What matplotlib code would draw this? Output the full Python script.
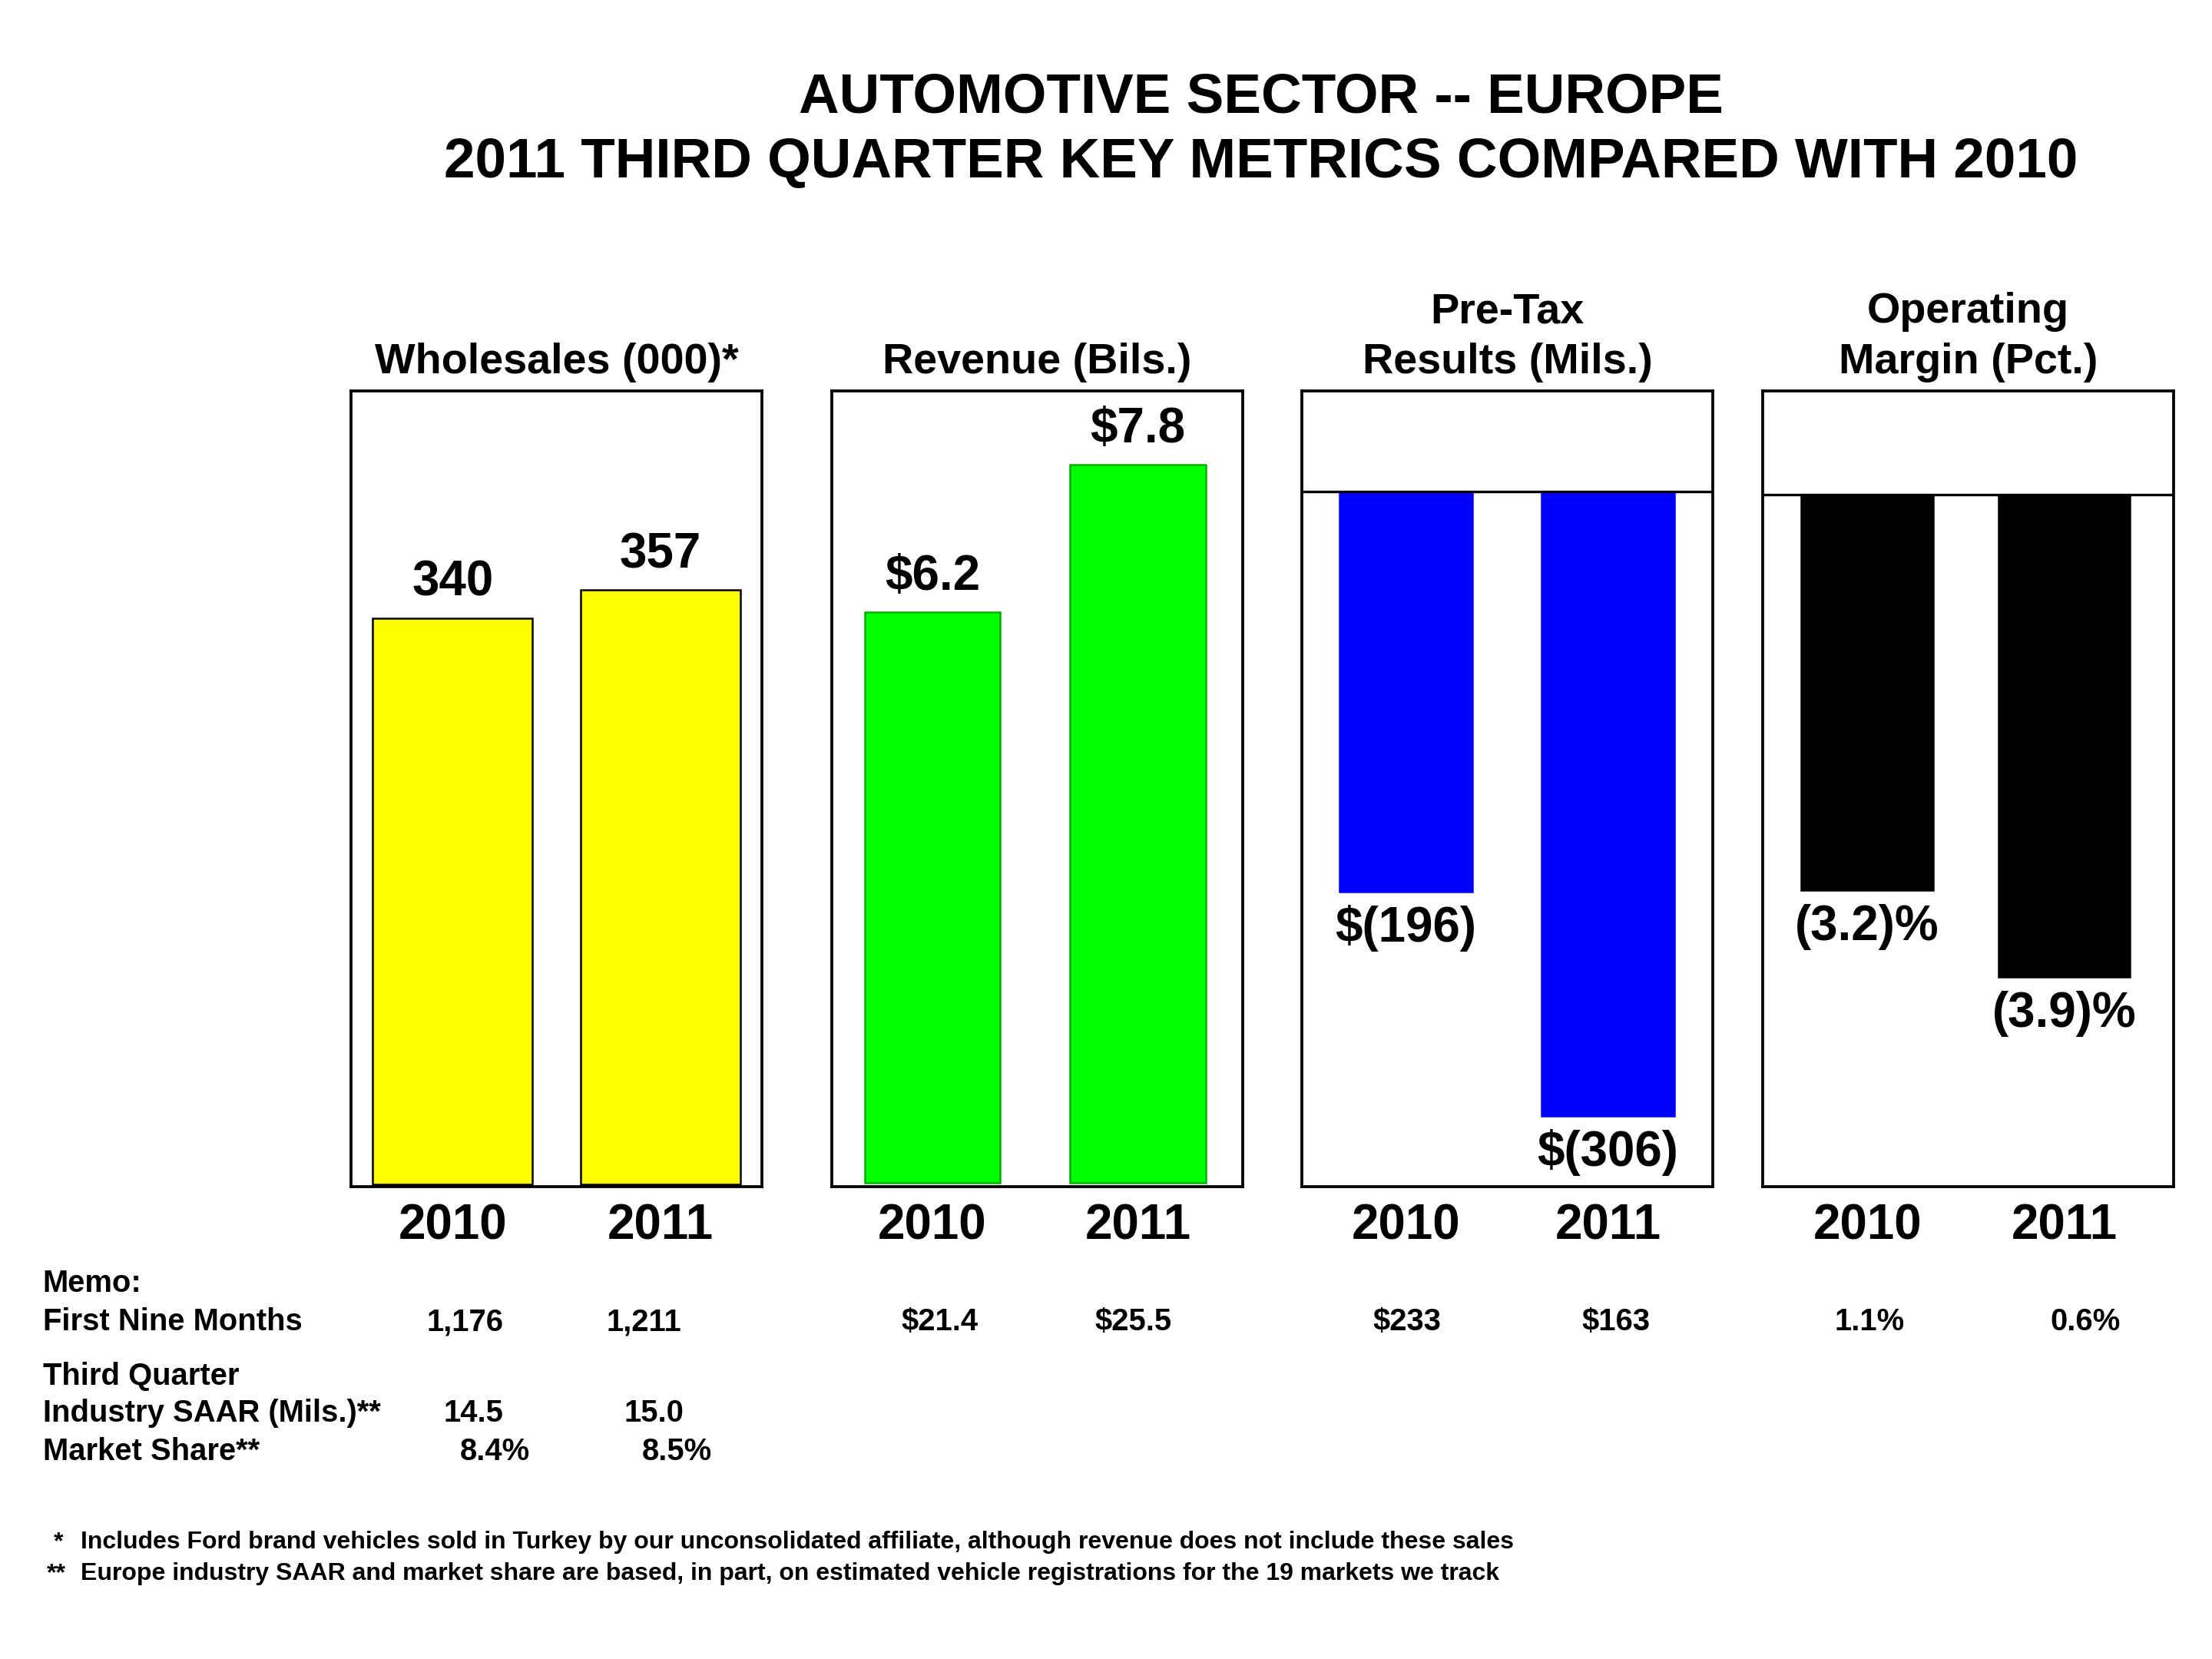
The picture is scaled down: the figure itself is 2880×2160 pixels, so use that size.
import matplotlib
matplotlib.use("Agg")
import matplotlib.pyplot as plt

plt.rcParams['font.family'] = ['Liberation Sans', 'DejaVu Sans']
plt.rcParams['font.weight'] = 'bold'

years = ['2010', '2011']
wholesales = [340, 357]
revenue = [6.2, 7.8]
pretax = [-196, -306]
margin = [-3.2, -3.9]

wholesales_lab = ['340', '357']
revenue_lab = ['$6.2', '$7.8']
pretax_lab = ['$(196)', '$(306)']
margin_lab = ['(3.2)%', '(3.9)%']

panel_titles = ['Wholesales (000)*', 'Revenue (Bils.)', 'Pre-Tax\nResults (Mils.)', 'Operating\nMargin (Pct.)']

first_nine = ['1,176', '1,211', '$21.4', '$25.5', '$233', '$163', '1.1%', '0.6%']
saar = ['14.5', '15.0']
share = ['8.4%', '8.5%']

fig = plt.figure(figsize=(9.6, 7.2), dpi=300)

lefts = [0.1587, 0.3760, 0.5887, 0.7969]
bot, h, w = 0.2845, 0.4799, 0.1857

panels = [
    (wholesales, wholesales_lab, '#FFFF00', 'black', 0.77, (-0.49, 1.49), (-1.7, 476.5)),
    (revenue, revenue_lab, '#00FF00', '#00B000', 0.66, (-0.49, 1.51), (-0.046, 8.6)),
    (pretax, pretax_lab, '#0000FF', '#0000FF', 0.66, (-0.514, 1.521), (-341, 49.5)),
    (margin, margin_lab, 'black', 'black', 0.67, (-0.531, 1.556), (-5.60, 0.84)),
]

for i, (vals, labs, col, ec, bw, xl, yl) in enumerate(panels):
    ax = fig.add_axes([lefts[i], bot, w, h])
    x = range(len(vals))
    ax.bar(x, vals, width=bw, color=col, edgecolor=ec, lw=0.6)
    for xi, v, lab in zip(x, vals, labs):
        off = 11 if v > 0 else -11.5
        ax.annotate(lab, (xi, v), xytext=(0, off), textcoords='offset points',
                    ha='center', va='center', fontsize=15.3, fontweight='bold')
    if min(vals) < 0:
        ax.axhline(0, color='black', lw=0.8)
    ax.set_xlim(*xl)
    ax.set_ylim(*yl)
    ax.set_xticks(list(x))
    ax.set_xticklabels(years, fontsize=15.3, fontweight='bold')
    ax.set_yticks([])
    ax.tick_params(axis='x', length=0, pad=5)
    for s in ax.spines.values():
        s.set_linewidth(0.9)
    ax.annotate(panel_titles[i], (0.5, 1.0), xycoords='axes fraction', xytext=(0, 2.5),
                textcoords='offset points', ha='center', va='bottom',
                fontsize=13.4, fontweight='bold', linespacing=1.35)

fig.text(0.570, 0.941, 'AUTOMOTIVE SECTOR -- EUROPE', ha='center', va='center', fontsize=17.5, fontweight='bold')
fig.text(0.570, 0.902, '2011 THIRD QUARTER KEY METRICS COMPARED WITH 2010', ha='center', va='center', fontsize=17.5, fontweight='bold')

fs = 9.6
lx = 0.0193
fig.text(lx, 0.2262, 'Memo:', ha='left', va='center', fontsize=fs)
fig.text(lx, 0.2031, 'First Nine Months', ha='left', va='center', fontsize=fs)
fig.text(lx, 0.1705, 'Third Quarter', ha='left', va='center', fontsize=fs)
fig.text(lx, 0.1482, 'Industry SAAR (Mils.)**', ha='left', va='center', fontsize=fs)
fig.text(lx, 0.1251, 'Market Share**', ha='left', va='center', fontsize=fs)

memo_x = [0.2102, 0.2911, 0.4248, 0.5122, 0.6362, 0.7307, 0.8451, 0.9428]
for xx, t in zip(memo_x, first_nine):
    fig.text(xx, 0.2031, t, ha='center', va='center', fontsize=fs)
for xx, t in zip([0.2140, 0.2956], saar):
    fig.text(xx, 0.1482, t, ha='center', va='center', fontsize=fs)
for xx, t in zip([0.2237, 0.3059], share):
    fig.text(xx, 0.1251, t, ha='center', va='center', fontsize=fs)

fn = 7.7
fig.text(0.0244, 0.0703, '*', ha='left', va='center', fontsize=fn)
fig.text(0.0366, 0.0703, 'Includes Ford brand vehicles sold in Turkey by our unconsolidated affiliate, although revenue does not include these sales',
         ha='left', va='center', fontsize=fn)
fig.text(0.0212, 0.0514, '**', ha='left', va='center', fontsize=fn)
fig.text(0.0366, 0.0514, 'Europe industry SAAR and market share are based, in part, on estimated vehicle registrations for the 19 markets we track',
         ha='left', va='center', fontsize=fn)

plt.savefig('out.png', dpi=300)
